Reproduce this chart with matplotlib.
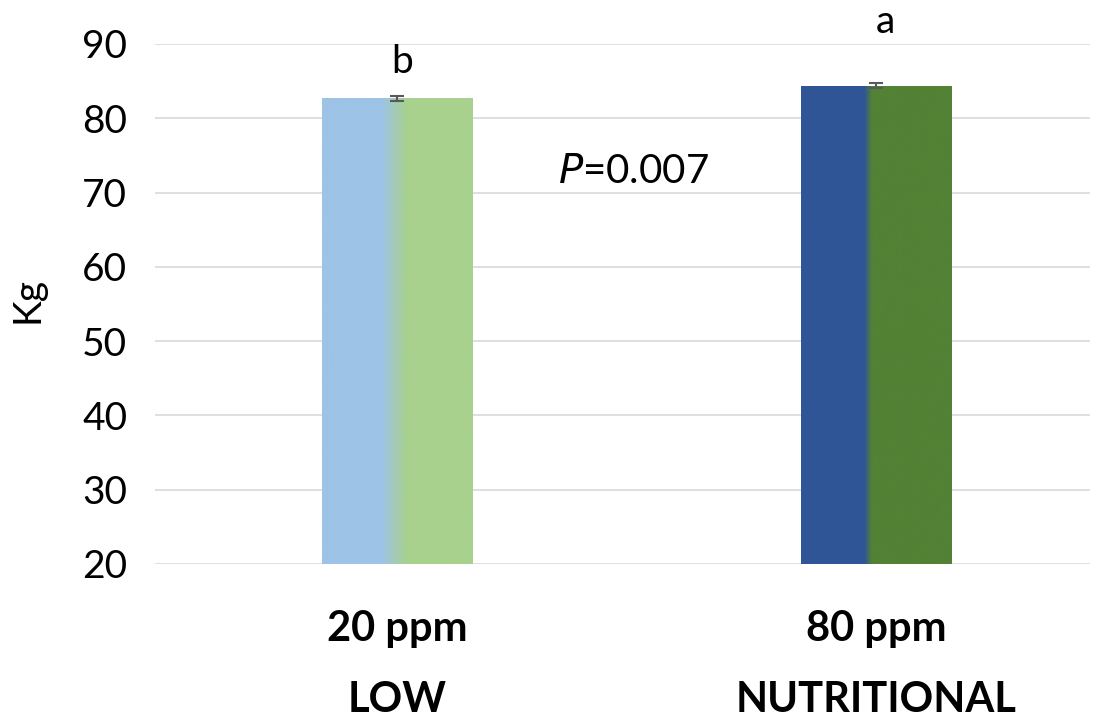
import numpy as np
import matplotlib
matplotlib.use("Agg")
import matplotlib.pyplot as plt
from matplotlib.colors import LinearSegmentedColormap

doses = ["20 ppm", "80 ppm"]
groups = ["LOW", "NUTRITIONAL"]
values = [82.7, 84.4]
errors = [0.35, 0.35]
letters = ["b", "a"]
letter_y = [87.6, 93.0]
left_colors = ["#9DC3E6", "#2F5597"]
right_colors = ["#A9D18E", "#538135"]
blend = [(0.40, 0.56), (0.42, 0.47)]
yticks = [20, 30, 40, 50, 60, 70, 80, 90]

plt.rcParams['font.family'] = ['Lato', 'DejaVu Sans']
fig = plt.figure(figsize=(11.06, 7.25), dpi=100)
ax = fig.add_axes([155/1106, 1-564/725, (1090-155)/1106, (564-44)/725])

x = np.arange(len(doses))
width = 151/479
xlim = ((155-397)/479, (1090-397)/479)
ax.set_yticks(yticks)
ax.yaxis.grid(True, color="#D9D9D9", lw=1.2)
ax.set_axisbelow(True)
for s in ax.spines.values():
    s.set_visible(False)
ax.tick_params(length=0, labelsize=28)
ax.tick_params(axis='y', pad=20)

bars = ax.bar(x, values, width=width, color="none", zorder=2)
for i, b in enumerate(bars):
    cmap = LinearSegmentedColormap.from_list(
        f"g{i}", [(0, left_colors[i]), (blend[i][0], left_colors[i]),
                  (blend[i][1], right_colors[i]), (1, right_colors[i])])
    grad = np.linspace(0, 1, 256).reshape(1, -1)
    im = ax.imshow(grad, cmap=cmap, aspect='auto', zorder=2,
                   extent=[b.get_x(), b.get_x()+b.get_width(), 20, b.get_height()])
    im.set_clip_path(b)
ax.set_xlim(*xlim)
ax.set_ylim(20, 90)

ax.errorbar(x, values, yerr=errors, fmt='none', ecolor="#595959",
            elinewidth=1.5, capsize=5, capthick=1.5, zorder=3)

ax.set_xticks(x)
ax.set_xticklabels(doses, fontsize=30, fontweight='bold')
ax.tick_params(axis='x', pad=33)
for xi, g in zip(x, groups):
    ax.text(xi, -0.262, g, transform=ax.get_xaxis_transform(), ha='center',
            va='center', fontsize=30, fontweight='bold')

ax.text(x[0] + 5/479, letter_y[0], letters[0], ha='center', va='center', fontsize=28, clip_on=False)
ax.text(x[1] + 9/479, letter_y[1], letters[1], ha='center', va='center', fontsize=28, clip_on=False)

ax.text((633-397)/479, 72.77, r"$\it{P}$=0.007", ha='center', va='center', fontsize=29)
ax.set_ylabel("Kg", fontsize=28)
ax.yaxis.set_label_coords(-0.117, 0.508)

fig.savefig("out.png", dpi=100)
